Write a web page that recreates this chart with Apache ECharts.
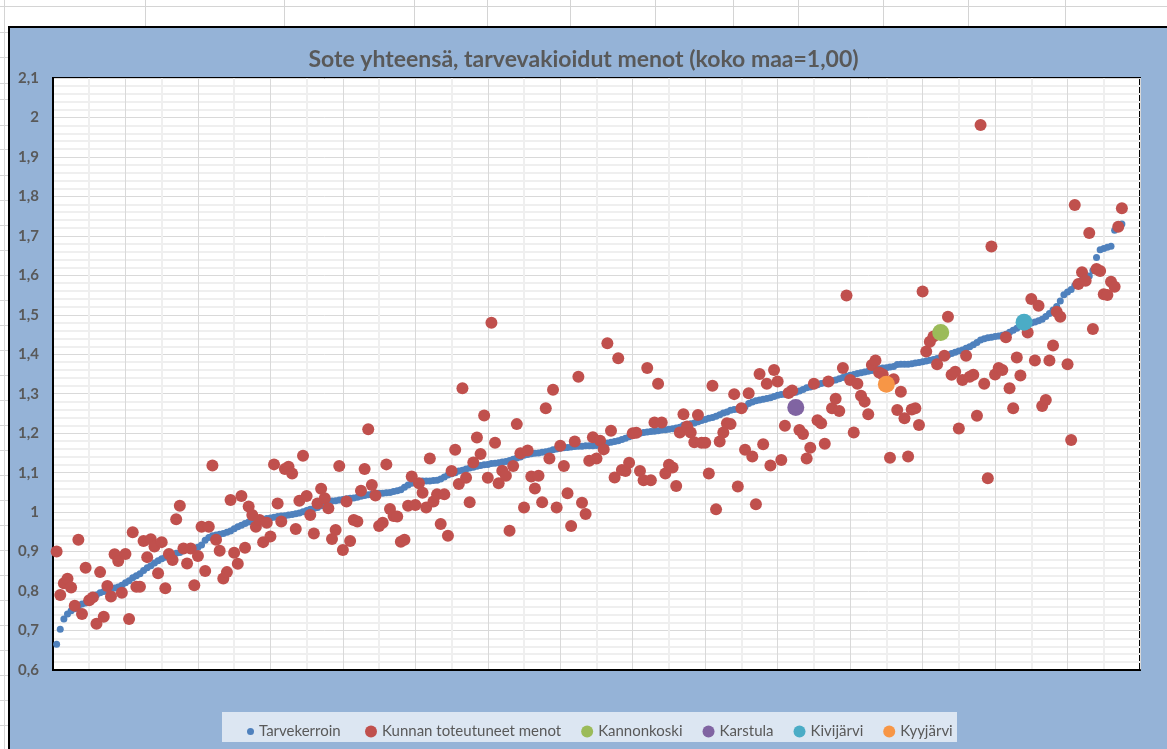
<!DOCTYPE html>
<html>
<head>
<meta charset="utf-8">
<script src="https://cdn.jsdelivr.net/npm/echarts@6/dist/echarts.min.js"></script>
<style>
html,body{margin:0;padding:0;background:#fff;width:1167px;height:749px;overflow:hidden;}
#sheet{position:absolute;left:0;top:0;width:1167px;height:749px;
 background:
  linear-gradient(#d4d4d4,#d4d4d4) 0 6px/1167px 1px no-repeat,
  linear-gradient(#d4d4d4,#d4d4d4) 4px 0/1px 749px no-repeat;
}
.vl{position:absolute;top:0;width:1px;height:26px;background:#d4d4d4;}
.hl{position:absolute;left:0;width:8px;height:1px;background:#d4d4d4;}
#frame{position:absolute;left:8px;top:26px;width:1159px;height:723px;background:#95B3D7;border-left:2px solid #000;border-top:2px solid #000;box-sizing:border-box;}
#chart{position:absolute;left:0;top:0;width:1167px;height:749px;}
</style>
</head>
<body>
<div id="sheet"></div>
<div class="vl" style="left:145px"></div>
<div class="vl" style="left:284px"></div>
<div class="vl" style="left:414px"></div>
<div class="vl" style="left:487px"></div>
<div class="vl" style="left:570px"></div>
<div class="vl" style="left:655px"></div>
<div class="vl" style="left:733px"></div>
<div class="vl" style="left:798px"></div>
<div class="vl" style="left:883px"></div>
<div class="vl" style="left:968px"></div>
<div class="vl" style="left:1065px"></div>
<div class="hl" style="top:32px"></div>
<div class="hl" style="top:57px"></div>
<div class="hl" style="top:83px"></div>
<div class="hl" style="top:99px"></div>
<div class="hl" style="top:125px"></div>
<div class="hl" style="top:149px"></div>
<div class="hl" style="top:175px"></div>
<div class="hl" style="top:200px"></div>
<div class="hl" style="top:225px"></div>
<div class="hl" style="top:250px"></div>
<div class="hl" style="top:275px"></div>
<div class="hl" style="top:300px"></div>
<div class="hl" style="top:325px"></div>
<div class="hl" style="top:350px"></div>
<div class="hl" style="top:375px"></div>
<div class="hl" style="top:400px"></div>
<div class="hl" style="top:425px"></div>
<div class="hl" style="top:450px"></div>
<div class="hl" style="top:475px"></div>
<div class="hl" style="top:500px"></div>
<div class="hl" style="top:525px"></div>
<div class="hl" style="top:550px"></div>
<div class="hl" style="top:575px"></div>
<div class="hl" style="top:600px"></div>
<div class="hl" style="top:625px"></div>
<div class="hl" style="top:650px"></div>
<div class="hl" style="top:675px"></div>
<div class="hl" style="top:700px"></div>
<div class="hl" style="top:725px"></div>
<div id="frame"></div>
<div id="chart"></div>
<script>
// ---- data (municipalities sorted by Tarvekerroin, index 1..295) ----
var titleText = 'Sote yhteensä, tarvevakioidut menot (koko maa=1,00)';
var seriesNames = ['Tarvekerroin', 'Kunnan toteutuneet menot', 'Kannonkoski', 'Karstula', 'Kivijärvi', 'Kyyjärvi'];

var tarvekerroin = [
0.665,0.703,0.729,0.742,0.750,0.755,0.762,0.767,0.770,0.776,
0.785,0.790,0.796,0.799,0.801,0.805,0.808,0.810,0.815,0.821,
0.826,0.834,0.839,0.844,0.852,0.859,0.864,0.871,0.877,0.882,
0.886,0.890,0.893,0.896,0.898,0.902,0.906,0.907,0.908,0.911,
0.917,0.929,0.936,0.940,0.942,0.944,0.946,0.949,0.952,0.958,
0.963,0.967,0.971,0.975,0.977,0.979,0.981,0.982,0.984,0.985,
0.987,0.989,0.990,0.991,0.993,0.994,0.996,0.998,1.001,1.004,
1.007,1.009,1.012,1.016,1.020,1.025,1.028,1.029,1.031,1.032,
1.034,1.035,1.036,1.038,1.040,1.042,1.044,1.045,1.047,1.048,
1.048,1.049,1.050,1.052,1.054,1.057,1.063,1.069,1.073,1.077,
1.078,1.079,1.079,1.079,1.080,1.081,1.084,1.089,1.094,1.097,
1.100,1.104,1.106,1.109,1.112,1.114,1.116,1.118,1.120,1.121,
1.123,1.124,1.125,1.127,1.128,1.131,1.134,1.137,1.140,1.144,
1.146,1.148,1.149,1.150,1.152,1.153,1.155,1.158,1.160,1.162,
1.163,1.164,1.165,1.166,1.167,1.167,1.168,1.168,1.168,1.169,
1.170,1.172,1.175,1.177,1.179,1.181,1.184,1.187,1.191,1.195,
1.198,1.200,1.202,1.203,1.204,1.205,1.206,1.208,1.209,1.210,
1.211,1.213,1.215,1.220,1.222,1.224,1.226,1.229,1.232,1.235,
1.238,1.240,1.243,1.247,1.251,1.254,1.258,1.260,1.261,1.263,
1.267,1.275,1.279,1.282,1.284,1.286,1.288,1.290,1.293,1.296,
1.298,1.299,1.300,1.302,1.304,1.307,1.311,1.315,1.317,1.320,
1.323,1.326,1.328,1.331,1.333,1.335,1.338,1.341,1.344,1.347,
1.349,1.351,1.353,1.355,1.357,1.359,1.362,1.363,1.365,1.366,
1.368,1.369,1.374,1.375,1.375,1.375,1.376,1.378,1.379,1.381,
1.383,1.385,1.387,1.389,1.392,1.395,1.398,1.402,1.405,1.408,
1.411,1.415,1.419,1.424,1.430,1.436,1.439,1.442,1.443,1.445,
1.446,1.448,1.451,1.456,1.461,1.466,1.472,1.475,1.477,1.479,
1.482,1.485,1.489,1.496,1.503,1.512,1.521,1.535,1.551,1.558,
1.564,1.574,1.581,1.588,1.593,1.598,1.612,1.645,1.665,1.668,
1.671,1.674,1.714,1.725,1.730
];

var toteutuneet = [
0.900,0.790,0.820,0.831,0.809,0.763,0.930,0.742,0.859,0.777,
0.784,0.717,0.848,0.735,0.813,0.786,0.893,0.876,0.796,0.894,
0.729,0.949,0.811,0.811,0.927,0.886,0.931,0.913,0.845,0.924,
0.807,0.894,0.879,0.982,1.016,0.908,0.870,0.908,0.815,0.889,
0.963,0.851,0.963,1.118,0.930,0.902,0.832,0.848,1.031,0.897,
0.869,1.041,0.910,1.014,0.993,0.963,0.980,0.924,0.973,0.938,
1.121,1.022,0.976,1.109,1.115,1.098,0.957,1.029,1.143,1.041,
0.993,0.946,1.022,1.059,1.035,1.010,0.932,0.955,1.117,0.904,
1.027,0.927,0.980,0.976,1.054,1.109,1.210,1.069,1.042,0.965,
0.973,1.121,1.008,0.990,0.989,0.925,0.930,1.016,1.090,1.018,
1.073,1.049,1.012,1.136,1.027,1.045,0.970,1.045,0.940,1.104,
1.158,1.071,1.314,1.087,1.025,1.126,1.189,1.147,1.245,1.087,
1.480,1.176,1.073,1.105,1.092,0.953,1.117,1.223,1.149,1.012,
1.156,1.090,1.060,1.092,1.025,1.263,1.136,1.310,1.012,1.168,
1.117,1.048,0.965,1.179,1.343,1.024,0.995,1.130,1.190,1.136,
1.181,1.159,1.428,1.206,1.088,1.390,1.107,1.104,1.125,1.200,
1.201,1.104,1.081,1.365,1.081,1.227,1.325,1.227,1.098,1.120,
1.113,1.066,1.202,1.248,1.217,1.202,1.177,1.246,1.176,1.176,
1.098,1.320,1.007,1.179,1.202,1.225,1.223,1.299,1.065,1.263,
1.158,1.301,1.141,1.020,1.350,1.172,1.325,1.118,1.360,1.331,
1.132,1.219,1.302,1.308,null,1.208,1.198,1.136,1.163,1.325,
1.233,1.225,1.173,1.331,1.263,1.287,1.256,1.365,1.549,1.335,
1.202,1.325,1.295,1.280,1.248,1.373,1.384,1.354,1.349,null,
1.138,1.337,1.259,1.305,1.238,1.141,1.260,1.263,1.221,1.559,
1.407,1.432,1.445,1.375,null,1.396,1.495,1.348,1.356,1.212,
1.335,1.396,1.343,1.348,1.244,1.981,1.325,1.086,1.673,1.349,
1.365,1.360,1.443,1.314,1.263,1.392,1.346,null,1.455,1.540,
1.384,1.523,1.269,1.284,1.384,1.422,1.508,1.495,null,1.375,
1.183,1.778,1.578,1.608,1.586,1.707,1.464,1.616,1.611,1.552,
1.550,1.584,1.571,1.723,1.770
];

// highlighted municipalities: [index, value]
var kannonkoski = [[245, 1.455]];
var karstula = [[205, 1.265]];
var kivijarvi = [[268, 1.481]];
var kyyjarvi = [[230, 1.324]];

var yTicksMin = 0.6, yTicksMax = 2.1;

// ---- chart ----
var blueData = tarvekerroin.map(function (v, i) { return [i + 1, v]; });
var redData = [];
toteutuneet.forEach(function (v, i) { if (v !== null) redData.push([i + 1, v]); });

var chart = echarts.init(document.getElementById('chart'), null, { renderer: 'canvas' });
var font = 'Lato, "Open Sans", sans-serif';
var txt = '#595959';
var colors = ['#4F81BD', '#C0504D', '#9BBB59', '#8064A2', '#4BACC6', '#F79646'];

chart.setOption({
  animation: false,
  backgroundColor: 'transparent',
  title: {
    text: titleText,
    left: 'center',
    top: 43,
    textStyle: { fontFamily: font, fontSize: 23, fontWeight: 'bold', color: txt }
  },
  graphic: [{
    type: 'rect', z: 0,
    shape: { x: 222, y: 712, width: 735, height: 30 },
    style: { fill: '#DCE6F2' }
  }],
  legend: [{
    data: [seriesNames[0]],
    left: 242, top: 719,
    icon: 'circle', itemWidth: 7, itemHeight: 7,
    textStyle: { fontFamily: font, fontSize: 15, color: txt }
  }, {
    data: seriesNames.slice(1),
    left: 360, top: 719,
    icon: 'circle', itemWidth: 12, itemHeight: 12, itemGap: 20,
    textStyle: { fontFamily: font, fontSize: 15, color: txt }
  }],
  grid: {
    left: 53, right: 27, top: 78, bottom: 79,
    show: true, backgroundColor: '#fff', borderColor: '#000', borderWidth: 2
  },
  xAxis: {
    type: 'value', min: 0, max: 300, interval: 20,
    axisLabel: { show: false }, axisTick: { show: false },
    axisLine: { show: true, lineStyle: { color: '#000', width: 2 } },
    splitLine: { show: true, lineStyle: { color: '#d9d9d9', width: 1 } },
    minorTick: { show: false, splitNumber: 2 },
    minorSplitLine: { show: true, lineStyle: { color: '#efefef', width: 2 } }
  },
  yAxis: {
    type: 'value', min: yTicksMin, max: yTicksMax, interval: 0.1,
    axisLine: { show: true, lineStyle: { color: '#000', width: 2 } },
    axisTick: { show: false },
    axisLabel: {
      margin: 14, color: txt, fontFamily: font, fontSize: 15, fontWeight: 'bold',
      formatter: function (v) { return String(+v.toFixed(1)).replace('.', ','); }
    },
    splitLine: { show: true, lineStyle: { color: '#d9d9d9', width: 1 } },
    minorTick: { show: false, splitNumber: 5 },
    minorSplitLine: { show: true, lineStyle: { color: '#efefef', width: 2 } }
  },
  series: [
    { name: seriesNames[0], type: 'scatter', data: blueData, symbolSize: 7, itemStyle: { color: colors[0], opacity: 1 }, z: 2 },
    { name: seriesNames[1], type: 'scatter', data: redData, symbolSize: 12, itemStyle: { color: colors[1], opacity: 1 }, z: 3 },
    { name: seriesNames[2], type: 'scatter', data: kannonkoski, symbolSize: 17, itemStyle: { color: colors[2], opacity: 1 }, z: 4 },
    { name: seriesNames[3], type: 'scatter', data: karstula, symbolSize: 17, itemStyle: { color: colors[3], opacity: 1 }, z: 4 },
    { name: seriesNames[4], type: 'scatter', data: kivijarvi, symbolSize: 17, itemStyle: { color: colors[4], opacity: 1 }, z: 4 },
    { name: seriesNames[5], type: 'scatter', data: kyyjarvi, symbolSize: 17, itemStyle: { color: colors[5], opacity: 1 }, z: 4 }
  ]
});
</script>
</body>
</html>
